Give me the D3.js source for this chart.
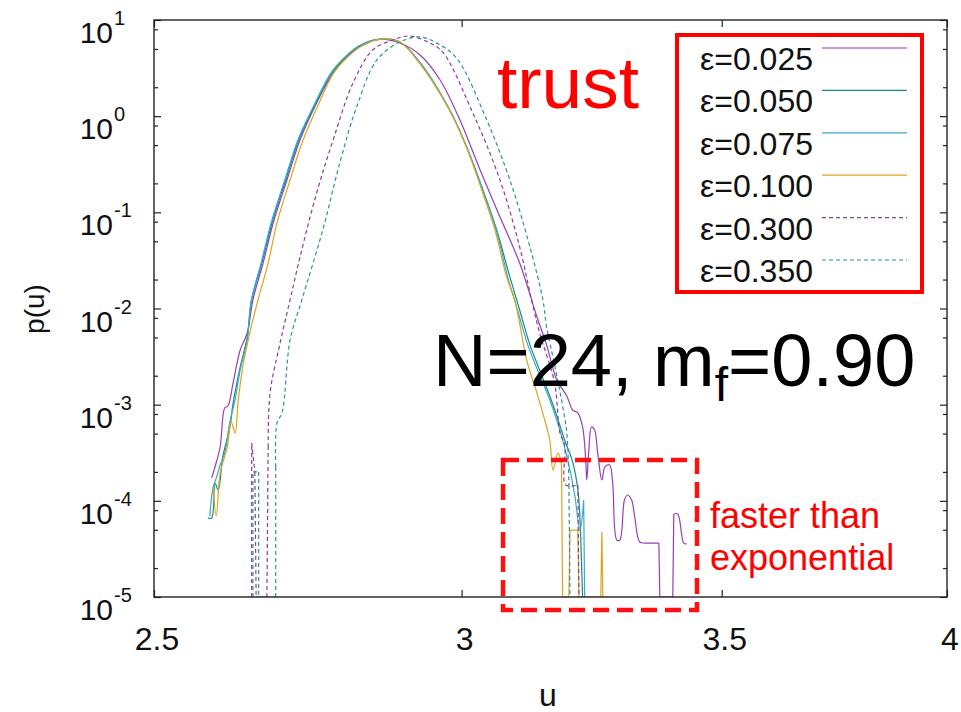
<!DOCTYPE html>
<html><head><meta charset="utf-8">
<script src="https://cdn.jsdelivr.net/npm/d3@7"></script>
<style>body{margin:0;background:#fff} svg{display:block} text{font-family:"Liberation Sans",Arial,Helvetica,sans-serif}</style>
</head><body>
<svg id="c" width="961" height="712"></svg>
<script>
// ---- data: [u, p(u)] ; p = 0 means an empty bin (drawn down to the axis floor)
const eps025 = [[2.587,1.73e-4],[2.592,2.25e-4],[2.600,3.63e-4],[2.607,9.24e-4],[2.612,9.69e-4],[2.620,1.68e-3],[2.631,3.70e-3],[2.642,5.56e-3],[2.651,0.0123],[2.667,0.0297],[2.683,0.0774],[2.705,0.217],[2.726,0.565],[2.753,1.37],[2.780,2.81],[2.803,4.12],[2.824,5.36],[2.856,6.3],[2.892,5.77],[2.927,4.33],[2.962,2.38],[2.997,0.912],[3.033,0.276],[3.069,0.0894],[3.105,0.0297],[3.137,0.00816],[3.155,0.00418],[3.174,0.00181],[3.193,0.00123],[3.204,8.81e-4],[3.214,8.20e-4],[3.223,5.86e-4],[3.229,2.66e-4],[3.231,1.65e-4],[3.235,3.38e-4],[3.240,5.86e-4],[3.246,5.45e-4],[3.252,3.14e-4],[3.260,1.65e-4],[3.266,2.25e-4],[3.275,2.36e-4],[3.281,1.53e-4],[3.289,3.92e-5],[3.295,3.92e-5],[3.304,1.02e-4],[3.310,1.15e-4],[3.318,1.02e-4],[3.324,6.9e-5],[3.334,3.73e-5],[3.344,3.64e-5],[3.372,3.64e-5],[3.374,0],[3.400,0],[3.402,7.3e-5],[3.410,7.3e-5],[3.422,3.64e-5],[3.428,3.56e-5]];
const eps050 = [[2.581,6.63e-5],[2.587,6.63e-5],[2.592,1.53e-4],[2.597,1.30e-4],[2.604,2.86e-4],[2.615,5.86e-4],[2.620,1.04e-3],[2.631,2.46e-3],[2.642,5.05e-3],[2.649,0.0123],[2.665,0.0297],[2.681,0.0774],[2.703,0.217],[2.724,0.565],[2.752,1.37],[2.778,2.81],[2.801,4.12],[2.824,5.36],[2.855,6.3],[2.892,5.90],[2.927,3.57],[2.979,1.159],[3.009,0.478],[3.038,0.1707],[3.063,0.0655],[3.087,0.0213],[3.105,0.00965],[3.124,0.00418],[3.142,0.00229],[3.167,9.93e-4],[3.189,4.29e-4],[3.204,2.54e-4],[3.214,1.30e-4],[3.219,4.97e-5],[3.223,0]];
const eps075 = [[2.584,6.96e-5],[2.589,1.36e-4],[2.594,1.73e-4],[2.600,2.36e-4],[2.607,3.14e-4],[2.615,6.61e-4],[2.623,1.12e-3],[2.631,2.29e-3],[2.642,4.71e-3],[2.648,0.0118],[2.664,0.0300],[2.680,0.0790],[2.702,0.222],[2.723,0.575],[2.751,1.40],[2.777,2.85],[2.800,4.15],[2.823,5.40],[2.855,6.3],[2.892,5.90],[2.927,3.62],[2.979,1.16],[3.009,0.478],[3.038,0.171],[3.063,0.0630],[3.083,0.0213],[3.101,0.00965],[3.120,0.00418],[3.142,0.00203],[3.161,0.00112],[3.180,5.45e-4],[3.199,2.09e-4],[3.208,1.15e-4],[3.218,4.97e-5],[3.225,1.02e-4],[3.227,0]];
const eps100 = [[2.589,1.39e-4],[2.594,6.96e-5],[2.600,1.95e-4],[2.611,3.63e-4],[2.617,6.61e-4],[2.623,5.08e-4],[2.628,1.12e-3],[2.635,2.46e-3],[2.646,5.56e-3],[2.659,0.0123],[2.675,0.0297],[2.689,0.0774],[2.710,0.217],[2.731,0.565],[2.757,1.37],[2.781,2.81],[2.804,4.12],[2.828,5.36],[2.858,6.3],[2.892,5.90],[2.927,3.5],[2.979,1.14],[3.009,0.47],[3.036,0.1707],[3.060,0.0655],[3.081,0.0213],[3.096,0.0123],[3.118,0.00291],[3.137,0.00132],[3.155,5.86e-4],[3.161,4.29e-4],[3.167,2.09e-4],[3.176,3.14e-4],[3.183,2.47e-4],[3.185,0],[3.197,0],[3.199,4.97e-5],[3.214,4.97e-5],[3.216,0],[3.258,0],[3.260,4.74e-5],[3.262,0]];
const eps300 = [[2.649,0],[2.649,4.0e-4],[2.654,2.0e-4],[2.656,0],[2.673,0],[2.675,3.63e-4],[2.678,1.32e-3],[2.694,4.38e-3],[2.710,0.0123],[2.726,0.0343],[2.753,0.1589],[2.780,0.565],[2.813,2.21],[2.846,4.88],[2.880,6.19],[2.909,6.82],[2.944,5.77],[2.967,4.6],[3.020,1.079],[3.069,0.217],[3.105,0.0436],[3.127,0.0123],[3.142,5.56e-3],[3.170,1.68e-3],[3.180,5.08e-4],[3.189,3.81e-4],[3.191,1.46e-4],[3.214,1.46e-4],[3.216,0]];
const eps350 = [[2.651,0],[2.651,2.0e-4],[2.660,2.0e-4],[2.660,0],[2.687,0],[2.687,2.25e-4],[2.689,6.45e-4],[2.697,8.20e-4],[2.710,4.71e-3],[2.729,0.0123],[2.763,0.0655],[2.791,0.326],[2.819,1.245],[2.853,3.84],[2.892,5.90],[2.927,6.66],[2.962,5.5],[2.992,3.95],[3.045,0.912],[3.087,0.217],[3.124,0.0436],[3.148,0.0123],[3.155,0.00642],[3.170,0.00259],[3.183,1.12e-3],[3.193,5.08e-4],[3.197,1.46e-4],[3.199,0]];

const legendLabels = ["ε=0.025","ε=0.050","ε=0.075","ε=0.100","ε=0.300","ε=0.350"];
const xTickValues = [2.5, 3, 3.5, 4];
const xTickLabels = ["2.5", "3", "3.5", "4"];
const yExponents = [1, 0, -1, -2, -3, -4, -5];
const yMinorMantissas = [2, 5, 8];

// ---- layout
const W = 961, H = 712, L = 154, R = 947, T = 20, B = 597;
const x = d3.scaleLog().domain([2.5, 4]).range([L, R]);
const y = d3.scaleLog().domain([1e-5, 10]).range([B, T]);
const floorP = 1e-5;

const svg = d3.select("#c");
svg.append("rect").attr("width", W).attr("height", H).attr("fill", "#fff");
svg.append("defs").append("clipPath").attr("id", "clip")
  .append("rect").attr("x", L).attr("y", T).attr("width", R - L).attr("height", B - T);

const seriesData = [eps025, eps050, eps075, eps100, eps300, eps350];
const colors = ["#9440b4", "#148c82", "#3aa6d2", "#dba41c", "#8e3c9c", "#2e9494"];
const dashes = [null, null, null, null, "4,3", "4,3"];

const smoothLine = d3.line().curve(d3.curveCatmullRom.alpha(0.5))
  .x(d => x(d[0])).y(d => y(Math.max(d[1], floorP)));
const straightLine = d3.line().x(d => x(d[0])).y(d => y(Math.max(d[1], floorP)));

// split a series: runs of non-empty bins are drawn smooth, drops to empty bins straight
function seriesPath(d) {
  let out = "", run = [];
  const flush = () => { if (run.length > 1) out += smoothLine(run); run = []; };
  d.forEach((pt, i) => {
    if (pt[1] > 0) { run.push(pt); }
    else { flush(); }
    if (i > 0 && (pt[1] === 0 || d[i - 1][1] === 0)) out += straightLine([d[i - 1], pt]);
  });
  flush();
  return out;
}

const plot = svg.append("g").attr("clip-path", "url(#clip)");
seriesData.forEach((d, i) => {
  plot.append("path").attr("d", seriesPath(d)).attr("fill", "none")
    .attr("stroke", colors[i]).attr("stroke-width", 1.2)
    .attr("stroke-dasharray", dashes[i]);
});

// ---- axes (ticks inward on all four sides)
const majorY = yExponents.map(e => Math.pow(10, e));
const minorY = [];
yExponents.forEach(e => { if (e > -5) yMinorMantissas.forEach(m => minorY.push(m * Math.pow(10, e - 1))); });
const axCol = "#222";
function styleAxis(g) { g.select(".domain").remove(); g.selectAll("line").attr("stroke", axCol).attr("stroke-width", 1.2); g.selectAll("text").remove(); }
svg.append("g").attr("transform", `translate(${L},0)`).call(d3.axisLeft(y).tickValues(majorY).tickSize(-7)).call(styleAxis);
svg.append("g").attr("transform", `translate(${L},0)`).call(d3.axisLeft(y).tickValues(minorY).tickSize(-4)).call(styleAxis);
svg.append("g").attr("transform", `translate(${R},0)`).call(d3.axisRight(y).tickValues(majorY).tickSize(-7)).call(styleAxis);
svg.append("g").attr("transform", `translate(${R},0)`).call(d3.axisRight(y).tickValues(minorY).tickSize(-4)).call(styleAxis);
svg.append("g").attr("transform", `translate(0,${B})`).call(d3.axisBottom(x).tickValues(xTickValues).tickSize(-7)).call(styleAxis);
svg.append("g").attr("transform", `translate(0,${T})`).call(d3.axisTop(x).tickValues(xTickValues).tickSize(-7)).call(styleAxis);
svg.append("rect").attr("x", L).attr("y", T).attr("width", R - L).attr("height", B - T)
  .attr("fill", "none").attr("stroke", axCol).attr("stroke-width", 1.4);

// y tick labels 10^e
yExponents.forEach(e => {
  const ty = y(Math.pow(10, e));
  svg.append("text").attr("x", 113).attr("y", ty + 23).attr("text-anchor", "end")
    .attr("font-size", 30).attr("fill", "#111").text("10");
  svg.append("text").attr("x", 114).attr("y", ty + 5).attr("text-anchor", "start")
    .attr("font-size", 20).attr("fill", "#111").text(String(e));
});
// x tick labels
xTickValues.forEach((v, i) => {
  svg.append("text").attr("x", x(v) + 3).attr("y", 650).attr("text-anchor", "middle")
    .attr("font-size", 32).attr("fill", "#111").text(xTickLabels[i]);
});
// axis titles
svg.append("text").attr("transform", "translate(44,309) rotate(-90)").attr("text-anchor", "middle")
  .attr("font-size", 28).attr("fill", "#111").text("p(u)");
svg.append("text").attr("x", 548).attr("y", 706).attr("text-anchor", "middle")
  .attr("font-size", 32).attr("fill", "#111").text("u");

// ---- legend
const legRowY = d3.scaleLinear().domain([0, 5]).range([48, 260]);
legendLabels.forEach((lab, i) => {
  const ly = legRowY(i);
  svg.append("text").attr("x", 813).attr("y", ly + 22).attr("text-anchor", "end")
    .attr("font-size", 32).attr("fill", "#111").text(lab);
  svg.append("line").attr("x1", 822).attr("x2", 907).attr("y1", ly).attr("y2", ly)
    .attr("stroke", colors[i]).attr("stroke-width", 1.2).attr("stroke-dasharray", dashes[i]);
});
svg.append("rect").attr("x", 677).attr("y", 35).attr("width", 245).attr("height", 257)
  .attr("fill", "none").attr("stroke", "#ff0000").attr("stroke-width", 4);

// ---- annotations
svg.append("text").attr("x", 497).attr("y", 108).attr("font-size", 73).attr("fill", "#ff0000").text("trust");
const nt = svg.append("text").attr("x", 433).attr("y", 386).attr("font-size", 74).attr("fill", "#000");
nt.append("tspan").text("N=24, m");
nt.append("tspan").attr("font-size", 48).attr("dy", 15).text("f");
nt.append("tspan").attr("dy", -15).text("=0.90");
svg.append("rect").attr("x", 503).attr("y", 460).attr("width", 194).attr("height", 150)
  .attr("fill", "none").attr("stroke", "#ff1010").attr("stroke-width", 4.5).attr("stroke-dasharray", "16,8");
svg.append("text").attr("x", 710).attr("y", 528).attr("font-size", 36).attr("fill", "#ff0000").text("faster than");
svg.append("text").attr("x", 710).attr("y", 570).attr("font-size", 36).attr("fill", "#ff0000").text("exponential");
</script>
</body></html>
